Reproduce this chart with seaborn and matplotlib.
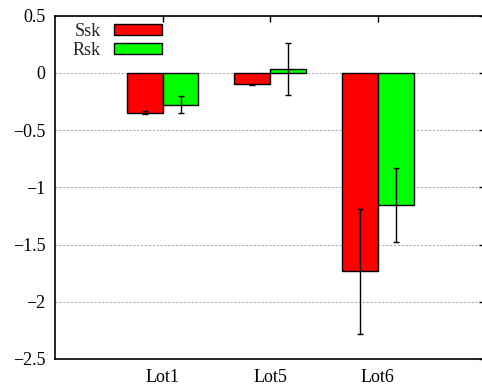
import pandas as pd
import matplotlib
matplotlib.use('Agg')
import matplotlib.pyplot as plt
import seaborn as sns

# valeurs
lots = ['Lot1', 'Lot5', 'Lot6']
ssk = [-0.346, -0.099, -1.735]
ssk_err = [0.012, 0.006, 0.55]
rsk = [-0.277, 0.035, -1.153]
rsk_err = [0.075, 0.23, 0.323]
yticks = [0.5, 0, -0.5, -1, -1.5, -2, -2.5]
ytick_labels = ['0.5', '0', '\u22120.5', '\u22121', '\u22121.5', '\u22122', '\u22122.5']

datos = pd.DataFrame({
    'Lot': lots * 2,
    'Serie': ['Ssk'] * 3 + ['Rsk'] * 3,
    'val': ssk + rsk,
})
errores = {'Ssk': ssk_err, 'Rsk': rsk_err}

sns.set_style('white')
plt.rcParams['font.family'] = ['Liberation Serif', 'DejaVu Serif']
plt.rcParams['font.size'] = 13

fig = plt.figure(figsize=(4.82, 3.9), dpi=100)
ax = fig.add_axes([0.1141, 0.0795, 0.893, 0.880])

sns.barplot(data=datos, x='Lot', y='val', hue='Serie',
            palette={'Ssk': '#ff0000', 'Rsk': '#00ff00'}, saturation=1,
            width=2/3, edgecolor='black', linewidth=1,
            errorbar=None, ax=ax, zorder=3)

for cont, serie in zip(ax.containers, ['Ssk', 'Rsk']):
    xs = [p.get_x() + p.get_width() / 2 for p in cont.patches]
    ys = [p.get_height() for p in cont.patches]
    ax.errorbar(xs, ys, yerr=errores[serie], fmt='none', ecolor='black',
                elinewidth=1, capsize=2, capthick=1, zorder=4)

ax.set_xlim(-1, 3)
ax.set_ylim(-2.5, 0.5)
ax.set_yticks(yticks)
ax.set_yticklabels(ytick_labels)
ax.set_xlabel('')
ax.set_ylabel('')
ax.yaxis.grid(True, color='#b0b0b0', linestyle=(0, (2, 1.5)), linewidth=0.8, zorder=0)
ax.set_axisbelow(True)
ax.tick_params(direction='in', length=4, width=1, top=True, right=True,
               labelsize=13, colors='black', pad=7)
for s in ax.spines.values():
    s.set_color('black')
    s.set_linewidth(1.2)

leg = ax.legend(loc='upper left', bbox_to_anchor=(0.02, 1.006), frameon=False,
                markerfirst=False, handlelength=2.65, handleheight=0.6,
                handletextpad=0.75, labelspacing=0.12, borderpad=0,
                fontsize=13)
for t in leg.get_texts():
    t.set_ha('right')

plt.savefig('out.png', dpi=100)
